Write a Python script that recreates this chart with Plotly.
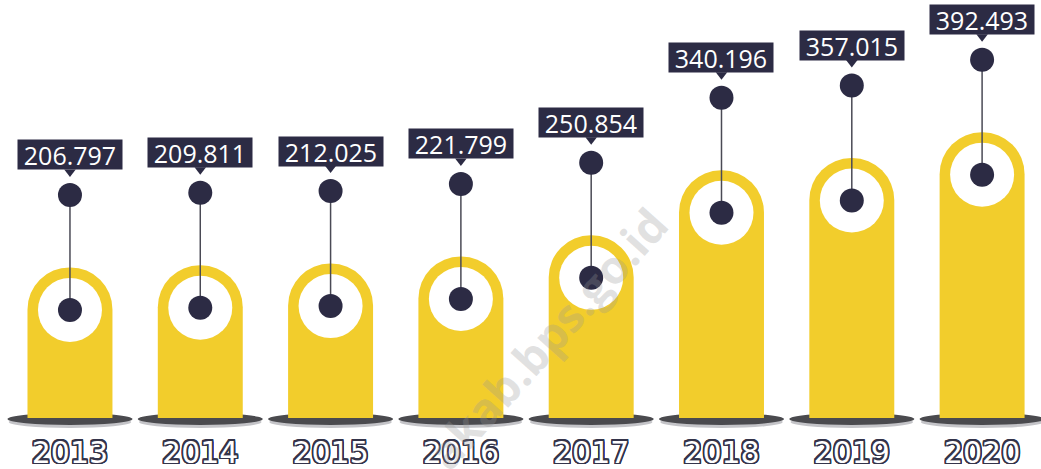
import plotly.graph_objects as go

# Data read from the infographic
years = ["2013", "2014", "2015", "2016", "2017", "2018", "2019", "2020"]
values = [206.797, 209.811, 212.025, 221.799, 250.854, 340.196, 357.015, 392.493]
labels = ["206.797", "209.811", "212.025", "221.799", "250.854", "340.196", "357.015", "392.493"]

YELLOW = "#F2CD2C"
NAVY = "#2C2B44"
W, H = 1041, 469
Y_RANGE = [-70, 574]
X_RANGE = [-0.537, 7.452]
PX = H / (Y_RANGE[1] - Y_RANGE[0])  # pixels per data unit on y
BAR_W = 0.652


def px(n):
    """Convert a pixel offset to y data units."""
    return n / PX


centers = [v - px(42.5) for v in values]
tops = [c + px(115) for c in centers]

fig = go.Figure()

# Rounded-top bars
fig.add_trace(
    go.Bar(
        x=years,
        y=values,
        width=BAR_W,
        marker=dict(color=YELLOW, cornerradius="50%", line=dict(width=0)),
        hoverinfo="skip",
    )
)

# White rings inside the bar heads
fig.add_trace(
    go.Scatter(
        x=years, y=centers, mode="markers",
        marker=dict(size=64, color="white", line=dict(width=0)),
        hoverinfo="skip",
    )
)

# Connector lines
lx, ly = [], []
for yr, c, t in zip(years, centers, tops):
    lx += [yr, yr, None]
    ly += [c, t, None]
fig.add_trace(
    go.Scatter(x=lx, y=ly, mode="lines", line=dict(color="#4a4a55", width=1.5), hoverinfo="skip")
)

# Dots
fig.add_trace(
    go.Scatter(
        x=years + years, y=centers + tops, mode="markers",
        marker=dict(size=24, color=NAVY, line=dict(width=0)),
        hoverinfo="skip",
    )
)

# Pointers under the value boxes
fig.add_trace(
    go.Scatter(
        x=years, y=[t + px(23) for t in tops], mode="markers",
        marker=dict(symbol="triangle-down", size=10, color=NAVY, line=dict(width=0)),
        hoverinfo="skip",
    )
)

# Year labels with outlined look
outline = ", ".join(
    f"{dx}px {dy}px 0 #34344a"
    for dx in (-1.5, -1, 0, 1, 1.5) for dy in (-1.5, -1, 0, 1, 1.5) if dx or dy
)
fig.add_trace(
    go.Scatter(
        x=years, y=[px(-37)] * len(years), mode="text", text=years,
        textfont=dict(family="DejaVu Sans", size=30, color="white", shadow=outline),
        cliponaxis=False,
        hoverinfo="skip",
    )
)

# Value boxes (category index used for x)
for i, (t, lab) in enumerate(zip(tops, labels)):
    fig.add_annotation(
        x=i, y=t + px(40), text=lab, showarrow=False,
        bgcolor=NAVY, width=104, height=29, borderpad=0,
        xanchor="center", yanchor="middle",
        font=dict(family="Open Sans", size=25, color="white"),
    )

# Ground shadows under bars
for i in range(len(years)):
    fig.add_shape(
        type="circle", xref="x", yref="y", layer="below",
        x0=i - 0.47, x1=i + 0.47, y0=px(-10), y1=px(2),
        fillcolor="#c4c4c8", line=dict(width=0),
    )
    fig.add_shape(
        type="circle", xref="x", yref="y", layer="below",
        x0=i - 0.48, x1=i + 0.48, y0=px(-7), y1=px(5),
        fillcolor="#4a4a4e", line=dict(width=0),
    )

# Watermark
fig.add_annotation(
    text="akab.bps.go.id", xref="paper", yref="paper", x=0.525, y=0.28,
    xanchor="center", yanchor="middle",
    showarrow=False, textangle=-48,
    font=dict(family="Open Sans", size=46, color="rgba(150,150,150,0.28)", weight="bold"),
)

fig.update_layout(
    width=W,
    height=H,
    margin=dict(l=0, r=0, t=0, b=0),
    paper_bgcolor="white",
    plot_bgcolor="white",
    showlegend=False,
    xaxis=dict(type="category", range=X_RANGE, visible=False, fixedrange=True),
    yaxis=dict(range=Y_RANGE, visible=False, fixedrange=True),
)

fig.write_html(
    "out.html",
    config={"displayModeBar": False},
    post_script="document.body.style.margin='0';",
)
